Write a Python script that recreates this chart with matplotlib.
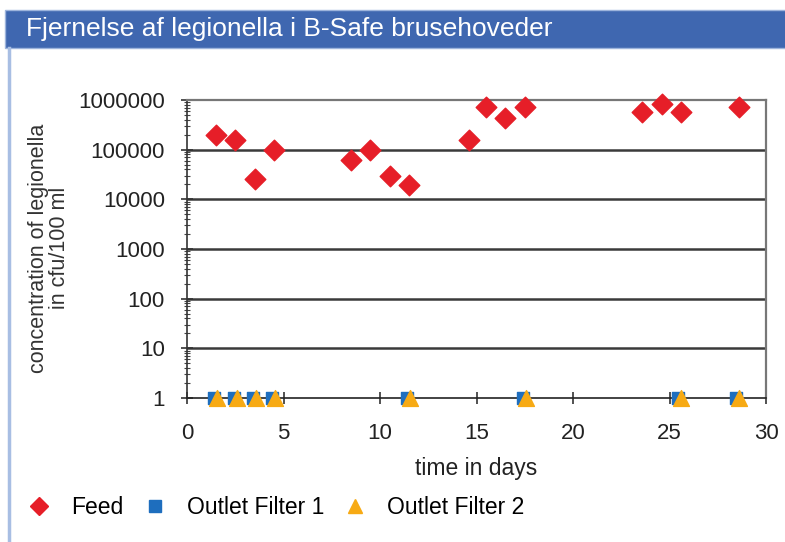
import matplotlib
matplotlib.use("Agg")
import matplotlib.pyplot as plt
from matplotlib.patches import Rectangle
from matplotlib.lines import Line2D
import numpy as np

plt.rcParams['font.family'] = ['Liberation Sans', 'DejaVu Sans']

# feed samples (days, cfu/100 ml)
feed_days = [1.5, 2.5, 3.5, 4.5, 8.5, 9.5, 10.5, 11.5, 14.6, 15.5, 16.5, 17.5, 23.6, 24.6, 25.6, 28.6]
feed_conc = [200000, 160000, 26000, 100000, 63000, 100000, 30000, 19000,
             160000, 720000, 440000, 720000, 570000, 830000, 570000, 720000]
# both outlet filters at detection limit
outlet_days = [1.5, 2.5, 3.5, 4.5, 11.5, 17.5, 25.5, 28.5]
outlet1_conc = [1, 1, 1, 1, 1, 1, 1, 1]
outlet2_conc = [1, 1, 1, 1, 1, 1, 1, 1]

y_ticks = [1, 10, 100, 1000, 10000, 100000, 1000000]
x_ticks = [0, 5, 10, 15, 20, 25, 30]

red = '#E61E28'
blue = '#1E6EBE'
yellow = '#F7AA14'

fig = plt.figure(figsize=(7.85, 5.42), dpi=100)

# header bar + left border line
fig.patches.append(Rectangle((5/785, 1-48/542), 1, 38/542, transform=fig.transFigure,
                             facecolor='#3F67B0', edgecolor='#9DB4DC', lw=1, zorder=0))
fig.lines.append(Line2D([8.5/785, 8.5/785], [0, 1-48/542], transform=fig.transFigure,
                        color='#A8BEE3', lw=2.5))
fig.text(26/785, 1-29/542, 'Fjernelse af legionella i B-Safe brusehoveder',
         color='white', fontsize=19, va='center', ha='left')

ax = fig.add_axes([187/785, 1-398/542, (766-187)/785, (398-100)/542])
ax.set_yscale('log')
ax.set_xlim(0, 30)
ax.set_ylim(1, 1000000)

for y in y_ticks[1:-1]:
    ax.axhline(y, color='#3a3a3a', lw=1.8, zorder=1)

ax.scatter(np.array(outlet_days) - 0.08, outlet1_conc, marker='s', s=80, color=blue, zorder=3,
           clip_on=False, label='Outlet Filter 1')
ax.scatter(np.array(outlet_days) + 0.08, outlet2_conc, marker='^', s=130, color=yellow,
           zorder=4, clip_on=False, label='Outlet Filter 2')
ax.scatter(feed_days, feed_conc, marker='D', s=110, color=red, zorder=5,
           clip_on=False, label='Feed')

ax.set_yticks(y_ticks)
ax.set_yticklabels([str(v) for v in y_ticks])
ax.set_xticks(x_ticks)
ax.tick_params(axis='both', which='major', direction='inout', length=8, width=1.2,
               labelsize=16, colors='#333333', labelcolor='#222222')
ax.tick_params(axis='y', which='minor', direction='inout', length=5, width=0.8, colors='#444444')
ax.tick_params(axis='y', which='major', pad=12)
ax.tick_params(axis='x', which='major', pad=14)

for side in ['top', 'right']:
    ax.spines[side].set_color('#777777')
    ax.spines[side].set_linewidth(1.6)
ax.spines['left'].set_color('#333333')
ax.spines['bottom'].set_color('#222222')
ax.spines['left'].set_linewidth(1.2)
ax.spines['bottom'].set_linewidth(1.2)

ax.set_xlabel('time in days', fontsize=16.5, color='#222222', labelpad=9)
fig.text(49/785, 1-248/542, 'concentration of legionella\nin cfu/100 ml', rotation=90,
         fontsize=15.5, color='#333333', ha='center', va='center', linespacing=1.05)

handles = [
    Line2D([], [], marker='D', color=red, ls='none', markersize=9),
    Line2D([], [], marker='s', color=blue, ls='none', markersize=8),
    Line2D([], [], marker='^', color=yellow, ls='none', markersize=10),
]
fig.legend(handles, ['Feed', 'Outlet Filter 1', 'Outlet Filter 2'], loc='center left',
           bbox_to_anchor=(5/785, 1-508/542), ncol=3, frameon=False, fontsize=16.5,
           handletextpad=0.8, columnspacing=0.75, handlelength=1.2)

fig.savefig('out.png', dpi=100)
